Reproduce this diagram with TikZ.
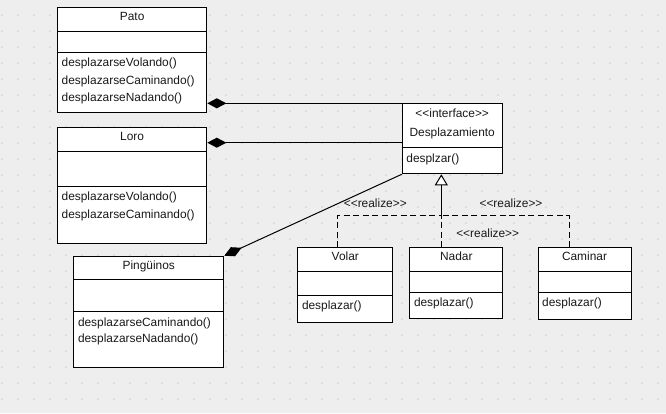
\documentclass[tikz,border=0pt]{standalone}
\usepackage{fontspec}
\setmainfont{Liberation Sans}
\usetikzlibrary{arrows.meta}
\definecolor{canvas}{HTML}{EEEEEE}
\definecolor{griddot}{HTML}{CDCDCD}

% class box: name, left, top, right, bottom, first and second compartment lines
\newcommand\umlbox[7]{%
  \node[box, minimum width={(#4-#2)*1pt}, minimum height={(#5-#3)*1pt}] (#1) at (#2,#3) {};
  \draw[sepline] (#1.west |- 0,#6) -- (#1.east |- 0,#6);
  \draw[sepline] (#1.west |- 0,#7) -- (#1.east |- 0,#7);
}
% stereotype brackets written as plain angle signs
\newcommand\stereo[1]{<{}<#1>{}>}

\begin{document}
\begin{tikzpicture}[x=1pt,y=-1pt,
  box/.style={draw=black, fill=white, line width=1pt, inner sep=0pt, anchor=north west},
  sepline/.style={line width=1pt},
  umlfont/.style={font=\fontsize{11.9}{13}\selectfont, text=black!90, inner sep=0pt},
  title/.style={umlfont, anchor=base},
  member/.style={umlfont, anchor=base west, xshift=4.5pt},
  compose/.style={line width=1pt, -{Diamond[length=19pt,width=10pt]}},
  realize/.style={line width=1pt, dash pattern=on 6pt off 3.5pt},
  realizehead/.style={line width=1pt, -{Triangle[length=11pt,width=13pt,fill=white]}},
  tag/.style={umlfont, anchor=base}
]
% canvas with dotted grid
\fill[canvas] (0,0) rectangle (666,413);
\useasboundingbox (0,0) rectangle (666,413);
\foreach \gx in {2,18,...,658}
  \foreach \gy in {15,31,...,411}
    \fill[griddot] (\gx,\gy) circle (0.9);

% classes
\umlbox{pato}{57}{7.3}{206.3}{112}{31.7}{52.3}
\node[title] (patoT) at (pato.center |- 0,20.7) {Pato};
\node[member] (patoM1) at (pato.west |- 0,66.3) {desplazarseVolando()};
\node[member] (patoM2) at (pato.west |- 0,84) {desplazarseCaminando()};
\node[member] (patoM3) at (pato.west |- 0,101.3) {desplazarseNadando()};

\umlbox{loro}{57}{127.3}{206.3}{243.3}{151.7}{186}
\node[title] (loroT) at (loro.center |- 0,140.7) {Loro};
\node[member] (loroM1) at (loro.west |- 0,200.7) {desplazarseVolando()};
\node[member] (loroM2) at (loro.west |- 0,218.3) {desplazarseCaminando()};

\umlbox{ping}{73.3}{255.7}{223.3}{367.3}{279.3}{311.7}
\node[title] (pingT) at (ping.center |- 0,269) {Pingüinos};
\node[member] (pingM1) at (ping.west |- 0,326.7) {desplazarseCaminando()};
\node[member] (pingM2) at (ping.west |- 0,342.7) {desplazarseNadando()};

% interface
\node[box, minimum width=100pt, minimum height=70pt] (iface) at (401.7,103.3) {};
\draw[sepline] (iface.west |- 0,147.3) -- (iface.east |- 0,147.3);
\node[title] (ifaceS) at (iface.center |- 0,117.3) {\stereo{interface}};
\node[title] (ifaceT) at (iface.center |- 0,136.7) {Desplazamiento};
\node[member] (ifaceM) at (iface.west |- 0,162) {desplzar()};

% implementations
\umlbox{volar}{297.3}{247.3}{392.3}{322.3}{271.7}{295}
\node[title] (volarT) at (volar.center |- 0,260.7) {Volar};
\node[member] (volarM) at (volar.west |- 0,309) {desplazar()};

\umlbox{nadar}{409.3}{247.3}{502.3}{318.3}{271.7}{292.3}
\node[title] (nadarT) at (nadar.center |- 0,260.7) {Nadar};
\node[member] (nadarM) at (nadar.west |- 0,306.3) {desplazar()};

\umlbox{caminar}{537.5}{247.3}{630.5}{318.5}{271.5}{292.5}
\node[title] (caminarT) at (caminar.center |- 0,260.7) {Caminar};
\node[member] (caminarM) at (caminar.west |- 0,306.5) {desplazar()};

% composition links
\draw[compose] (iface.north west) -- (pato.east |- iface.north west);
\draw[compose] (iface.west |- 0,142.7) -- (loro.east |- 0,142.7);
\draw[compose] (iface.south west) -- (ping.north east);

% realization links
\coordinate (junc) at (441.3,215.7);
\draw[realize] (volar.north -| 337.3,0) |- (junc);
\draw[realize] (caminar.north -| 569.3,0) |- (junc);
\draw[realize] (nadar.north -| junc) -- (junc);
\draw[realizehead] (junc) -- (iface.south -| junc);

\node[tag] (tagA) at (375.3,207.7) {\stereo{realize}};
\node[tag] (tagB) at (511,207) {\stereo{realize}};
\node[tag] (tagC) at (487.7,237.5) {\stereo{realize}};
\end{tikzpicture}
\end{document}
